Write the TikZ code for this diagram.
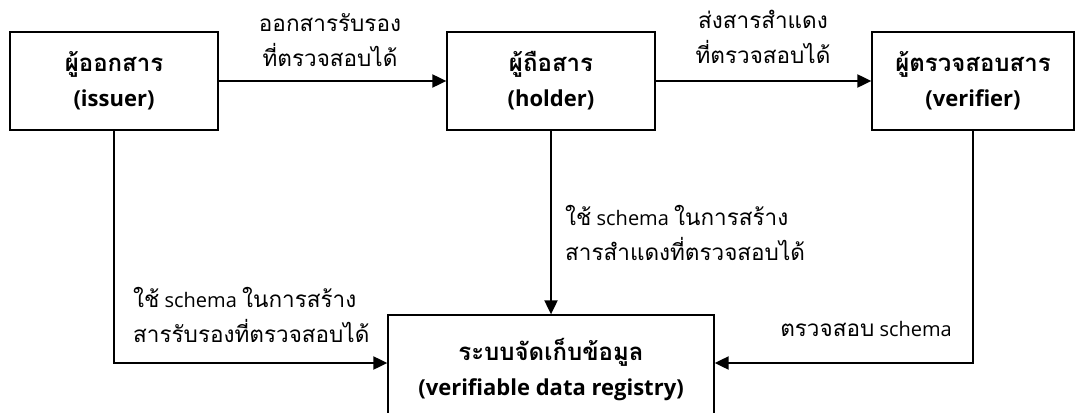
\documentclass[tikz,border=0pt]{standalone}
\usepackage{fontspec}
\setmainfont{Open Sans}
\newfontfamily\thai[Script=Thai]{Loma}
\usetikzlibrary{arrows.meta}

% Thai at title size and at label size
\newcommand{\thT}[1]{{\thai\fontsize{24}{35}\selectfont #1}}
\newcommand{\thL}[1]{{\thai\fontsize{22.5}{35}\selectfont #1}}

\tikzset{
  party/.style={draw, line width=1.3pt, minimum width=208pt, minimum height=98pt,
    inner sep=0pt, align=center, font=\fontsize{22}{35}\selectfont\bfseries},
  lbl/.style={inner sep=0pt, align=center, font=\fontsize{20}{35}\selectfont},
  flow/.style={line width=2pt, -{Triangle[length=14pt,width=13pt]}},
}

\begin{document}
\begin{tikzpicture}[x=1pt,y=-1pt]
  \useasboundingbox (0,0) rectangle (1075,412);
  \clip (0,0) rectangle (1075,412);

  % the three parties and the registry
  \node[party] (issuer)   at (114,81)  {\thT{ผู้ออกสาร}\\(issuer)};
  \node[party] (holder)   at (551,81)  {\thT{ผู้ถือสาร}\\(holder)};
  \node[party, minimum width=202pt] (verifier) at (973,81)  {\thT{ผู้ตรวจสอบสาร}\\(verifier)};
  \node[party, minimum width=326pt, minimum height=110pt] (registry) at (551,370)
    {\thT{ระบบจัดเก็บข้อมูล}\\(verifiable data registry)};
  \coordinate (regW) at ([yshift=7pt]registry.west);
  \coordinate (regE) at ([yshift=7pt]registry.east);

  % flows between the parties
  \draw[flow] (issuer.east) -- (holder.west);
  \draw[flow] (holder.east) -- (verifier.west);
  \draw[flow] (issuer.south) |- (regW);
  \draw[flow] (holder.south) -- (registry.north);
  \draw[flow] (verifier.south) |- (regE);

  % flow labels
  \node[lbl] (l1) at (330,40) {\thL{ออกสารรับรอง}\\\thL{ที่ตรวจสอบได้}};
  \node[lbl] (l2) at (763,37) {\thL{ส่งสารสำแดง}\\\thL{ที่ตรวจสอบได้}};
  \node[lbl, anchor=west, align=left] (l3) at (565,233)
    {\thL{ใช้} schema \thL{ในการสร้าง}\\\thL{สารสำแดงที่ตรวจสอบได้}};
  \node[lbl, anchor=west, align=left] (l4) at (133,315)
    {\thL{ใช้} schema \thL{ในการสร้าง}\\\thL{สารรับรองที่ตรวจสอบได้}};
  \node[lbl, anchor=east] (l5) at (952,329) {\thL{ตรวจสอบ} schema};
\end{tikzpicture}
\end{document}
